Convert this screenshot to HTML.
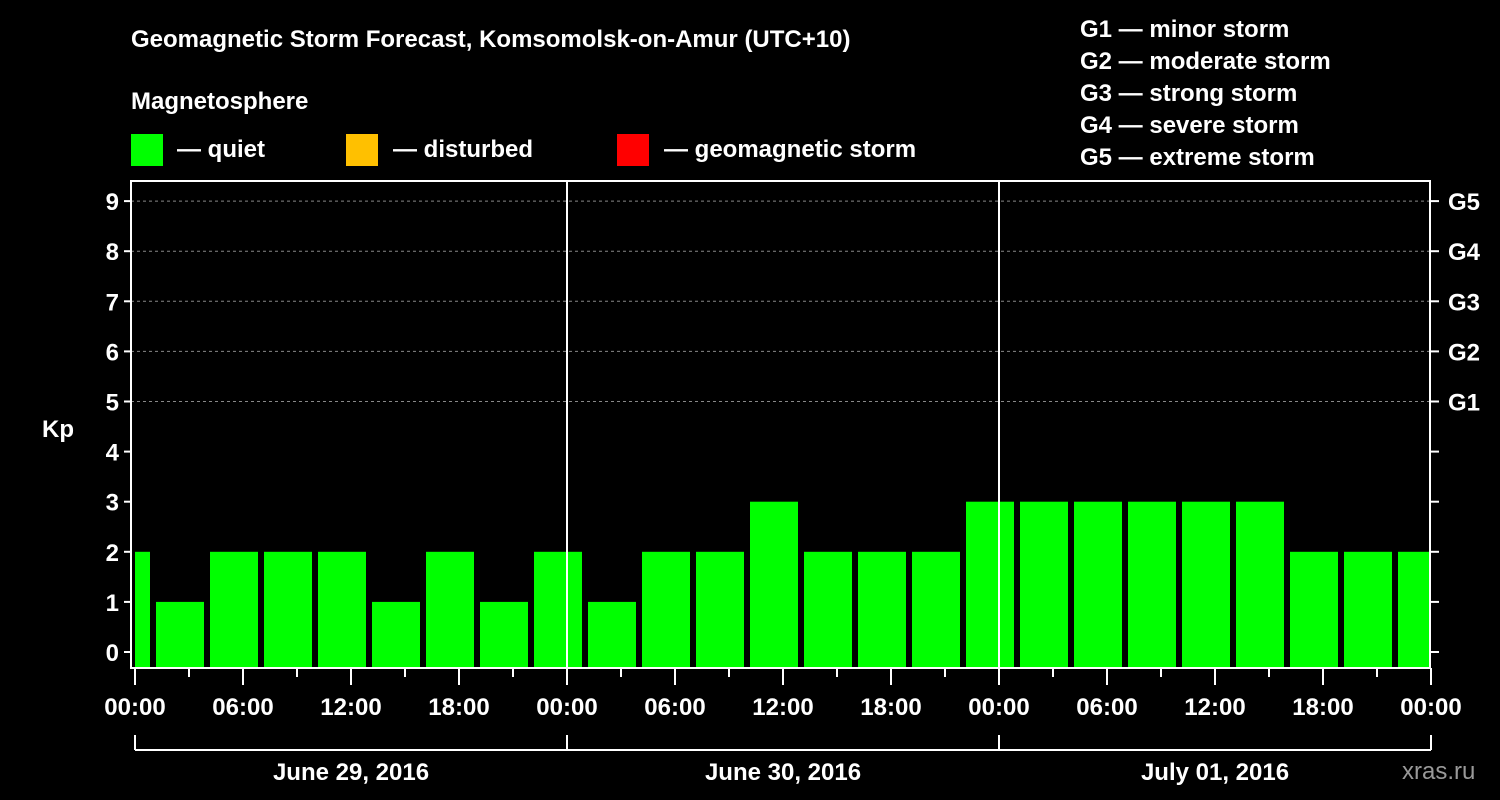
<!DOCTYPE html>
<html><head><meta charset="utf-8"><style>
body{margin:0;background:#000;}
svg{display:block;font-family:"Liberation Sans",sans-serif;font-weight:bold;}
</style></head><body>
<svg width="1500" height="800" viewBox="0 0 1500 800">
<g id="static">
<text x="131" y="47" fill="#fff" font-size="24">Geomagnetic Storm Forecast, Komsomolsk-on-Amur (UTC+10)</text>
<text x="131" y="109" fill="#fff" font-size="24">Magnetosphere</text>
<rect x="131" y="134" width="32" height="32" fill="#00ff00"/>
<text x="177" y="157" fill="#fff" font-size="24">— quiet</text>
<rect x="346" y="134" width="32" height="32" fill="#ffc000"/>
<text x="393" y="157" fill="#fff" font-size="24">— disturbed</text>
<rect x="617" y="134" width="32" height="32" fill="#ff0000"/>
<text x="664" y="157" fill="#fff" font-size="24">— geomagnetic storm</text>
<g fill="#fff" font-size="24">
<text x="1080" y="37">G1 — minor storm</text>
<text x="1080" y="69">G2 — moderate storm</text>
<text x="1080" y="101">G3 — strong storm</text>
<text x="1080" y="133">G4 — severe storm</text>
<text x="1080" y="165">G5 — extreme storm</text>
</g>
<text x="42" y="437" fill="#fff" font-size="24">Kp</text>
<text x="1402" y="779" fill="#999" font-size="24" font-weight="normal">xras.ru</text>
</g>
<g id="grid"></g>
<g id="bars"></g>
<g id="axes"></g>
</svg>
<script>
const kpValues=[2,1,2,2,2,1,2,1,2,1,2,2,3,2,2,2,3,3,3,3,3,3,2,2,2];
const yTicks=[0,1,2,3,4,5,6,7,8,9];
const gLabels=["G1","G2","G3","G4","G5"];
const xTickLabels=["00:00","06:00","12:00","18:00","00:00","06:00","12:00","18:00","00:00","06:00","12:00","18:00","00:00"];
const dayLabels=["June 29, 2016","June 30, 2016","July 01, 2016"];
const NS="http://www.w3.org/2000/svg";
const L=131,R=1430,T=181,B=668,X0=135,PXH=18;
const xS=h=>X0+h*PXH;
const yS=v=>652-v*50.1;
function mk(tag,attrs,parent,text){const e=document.createElementNS(NS,tag);for(const k in attrs)e.setAttribute(k,attrs[k]);if(text!==undefined)e.textContent=text;document.getElementById(parent).appendChild(e);return e;}
// grid
for(let v=5;v<=9;v++){
 const g=mk('line',{x1:L,x2:R,y1:yS(v),y2:yS(v),stroke:'#888','stroke-dasharray':'3,3','stroke-width':1},'grid');
 
 
}
// bars
kpValues.forEach((v,k)=>{
 const c=3*k-0.5;
 let x1=xS(c)-24,x2=xS(c)+24;
 x1=Math.max(x1,L+4);x2=Math.min(x2,R);
 const b=mk('rect',{x:x1,y:yS(v),width:x2-x1,height:B-yS(v),fill:v>=5?'#ff0000':(v>=4?'#ffc000':'#00ff00')},'bars');
 
 
});
// axes
const box=mk('rect',{x:L,y:T,width:R-L,height:B-T,fill:'none',stroke:'#fff','stroke-width':2},'axes');


for(let d=1;d<3;d++){
 const l=mk('line',{x1:xS(24*d),x2:xS(24*d),y1:T,y2:B,stroke:'#fff','stroke-width':2},'axes');
 
 
}
yTicks.forEach(v=>{
 const t=mk('line',{x1:L-7,x2:L,y1:yS(v),y2:yS(v),stroke:'#fff','stroke-width':2},'axes');
 
 
 const t2=mk('line',{x1:R,x2:R+9,y1:yS(v),y2:yS(v),stroke:'#fff','stroke-width':2},'axes');
 
 
 const lb=mk('text',{x:L-12,y:yS(v)+9,fill:'#fff','font-size':24,'text-anchor':'end'},'axes',String(v));
 
 
});
gLabels.forEach((g,i)=>{
 const lb=mk('text',{x:R+18,y:yS(5+i)+9,fill:'#fff','font-size':24},'axes',g);
 
 
});
for(let h=0;h<=72;h+=3){
 const major=h%6===0;
 const t=mk('line',{x1:xS(h),x2:xS(h),y1:B,y2:B+(major?17:9),stroke:'#fff','stroke-width':2},'axes');
 
 
}
xTickLabels.forEach((s,i)=>{
 const lb=mk('text',{x:xS(6*i),y:715,fill:'#fff','font-size':24,'text-anchor':'middle'},'axes',s);
 
 
});
const br=mk('line',{x1:xS(0),x2:xS(72),y1:750,y2:750,stroke:'#fff','stroke-width':2},'axes');


for(let d=0;d<=3;d++){
 const t=mk('line',{x1:xS(24*d),x2:xS(24*d),y1:735,y2:750,stroke:'#fff','stroke-width':2},'axes');
 
 
}
dayLabels.forEach((s,i)=>{
 const lb=mk('text',{x:xS(24*i+12),y:780,fill:'#fff','font-size':24,'text-anchor':'middle'},'axes',s);
 
 
});
</script>
</body></html>
